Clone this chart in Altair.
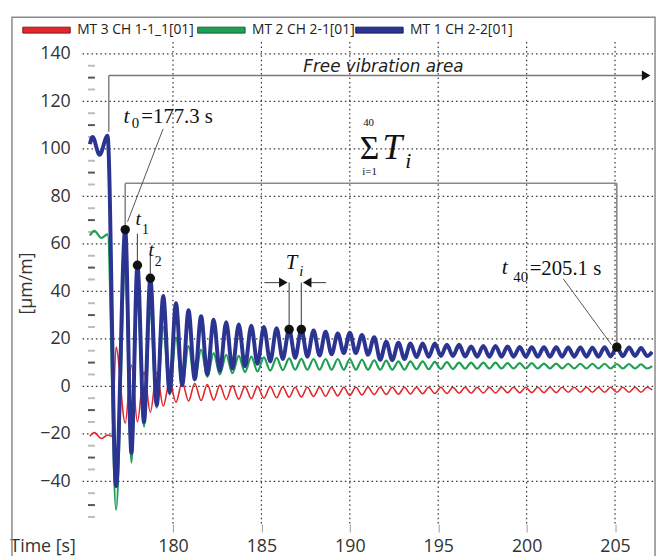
import altair as alt
import pandas as pd

SANS = "Open Sans"
SERIF = "Liberation Serif"

series_names = ["MT 3 CH 1-1_1[01]", "MT 2 CH 2-1[01]", "MT 1 CH 2-2[01]"]
series_colors = ["#e3262b", "#1f9e55", "#2b3591"]
series_edges = ["#7a1a1a", "#145c33", "#151c55"]

x_ticks = [180, 185, 190, 195, 200, 205]
y_ticks = [-40, -20, 0, 20, 40, 60, 80, 100, 120, 140]
minor_dark = [-50, -30, -10, 10, 30, 50, 70, 90, 110, 130]
minor_light = [-55, -45, -35, -25, -15, -5, 5, 15, 25, 35, 45, 55, 65, 75, 85, 95,
               105, 115, 125, 135]

# times of the blue-signal maxima (t0 ... ) and minima
peak_t = [177.30, 177.99, 178.72, 179.45, 180.17, 180.88, 181.59, 182.30, 183.01, 183.72,
          184.43, 185.14, 185.86, 186.57, 187.26, 187.95, 188.63, 189.32, 190.00, 190.69,
          191.38, 192.06, 192.75, 193.43, 194.12, 194.81, 195.49, 196.18, 196.86, 197.55,
          198.24, 198.92, 199.61, 200.29, 200.98, 201.67, 202.35, 203.04, 203.72, 204.41,
          205.10, 205.79, 206.47]
trough_t = [176.78, 177.65, 178.36, 179.08, 179.81, 180.52, 181.23, 181.94, 182.65, 183.36,
            184.07, 184.78, 185.50, 186.21, 186.91, 187.60, 188.29, 188.97, 189.66, 190.34,
            191.03, 191.72, 192.40, 193.09, 193.77, 194.46, 195.15, 195.83, 196.52, 197.20,
            197.89, 198.58, 199.26, 199.95, 200.63, 201.32, 202.01, 202.69, 203.38, 204.06,
            204.75, 205.44, 206.13, 206.81]
end_t = 207.10

# MT 1 CH 2-2 (blue)
blue_pre_t = [175.30, 175.45, 175.85, 176.30]
blue_pre_v = [102, 105, 97.5, 105.5]
blue_at_peaks = [66, 51, 45.5, 38, 35, 32, 29.5, 28, 27, 26,
                 25.5, 25, 24.5, 24, 24, 23.5, 23, 22.3, 22.6, 21.6,
                 20.7, 18.8, 18.4, 18.1, 18, 18, 17.5, 17.5, 16.8, 17,
                 17, 16.8, 16.6, 16.5, 16.5, 16.5, 16.4, 16.4, 16.3, 16.5,
                 16.5, 16.4, 16.2]
blue_at_troughs = [-42, -28, -15, -8, -2.5, 0.5, 3, 5, 6.5, 7.5,
                   8.5, 9.5, 10.5, 11.5, 12, 12.5, 13, 13.5, 14, 14,
                   13.3, 11.2, 11, 11.5, 12.3, 12.5, 12.8, 12.8, 12.6, 12.5,
                   12.5, 12.5, 12.5, 12.5, 12.5, 12.5, 12.5, 12.5, 12.5, 12.5,
                   12.6, 12.7, 12.8, 12.8]
blue_end = 14.5

# MT 2 CH 2-1 (green)
green_pre_t = [175.30, 175.55, 175.95, 176.30]
green_pre_v = [63.5, 65.5, 62.5, 64]
green_at_peaks = [50, 38, 31, 25, 20.5, 17, 15.5, 14, 13.3, 12.8,
                  12.5, 12.2, 12, 11.8, 11.6, 11.5, 11.5, 11.5, 11.5, 11.2,
                  11, 10.8, 10.5, 10.5, 10.5, 10.3, 10.2, 10, 10, 10,
                  10, 9.8, 9.8, 9.8, 9.6, 9.6, 9.5, 9.5, 9.5, 9.5,
                  9.4, 9.4, 9.3]
green_at_troughs = [-52, -32, -17, -9, -3.5, 0, 2.5, 4, 5, 5.5,
                    6, 6.3, 6.6, 6.8, 7, 7, 7, 7, 7, 7,
                    7, 7, 7, 7, 7.2, 7.2, 7.3, 7.3, 7.4, 7.4,
                    7.5, 7.5, 7.5, 7.5, 7.5, 7.5, 7.5, 7.5, 7.5, 7.5,
                    7.5, 7.5, 7.5, 7.5]
green_end = 8.5

# MT 3 CH 1-1_1 (red, opposite phase)
red_pre_t = [175.30, 175.55, 175.95, 176.30, 176.55]
red_pre_v = [-21, -19.5, -22, -20.5, -21]
red_at_peaks = [-15.5, -15, -11, -8.3, -6.7, -6.2, -6, -5.8, -5.6, -5.4,
                -5.2, -5, -4.8, -4.6, -4.5, -4.3, -4.2, -4, -3.8, -3.6,
                -3.5, -3.4, -3.3, -3.2, -3.1, -3, -3, -2.9, -2.9, -2.8,
                -2.8, -2.7, -2.7, -2.6, -2.6, -2.6, -2.5, -2.5, -2.5, -2.5,
                -2.5, -2.5, -2.5]
red_at_troughs = [16.6, 9, 6, 5.8, 2, 1.7, 1.2, 0.8, 0.5, 0.3,
                  0, 0, -0.2, -0.3, -0.4, -0.4, -0.4, -0.4, -0.4, -0.4,
                  -0.4, -0.4, -0.4, -0.4, -0.4, -0.4, -0.4, -0.4, -0.4, -0.4,
                  -0.4, -0.4, -0.4, -0.4, -0.4, -0.4, -0.4, -0.4, -0.4, -0.4,
                  -0.4, -0.4, -0.4, -0.4]
red_end = -1.5

# marked maxima
dot_t = [177.30, 177.99, 178.72, 186.57, 187.26, 205.10]
dot_v = [66, 51, 45.5, 24, 24, 16.5]


def build(pre_t, pre_v, at_p, at_tr, end_v):
    d = pd.DataFrame({"t": list(pre_t) + peak_t + trough_t + [end_t],
                      "v": list(pre_v) + at_p + at_tr + [end_v]})
    return d.sort_values("t").reset_index(drop=True)


df_red = build(red_pre_t, red_pre_v, red_at_peaks, red_at_troughs, red_end)
df_green = build(green_pre_t, green_pre_v, green_at_peaks, green_at_troughs, green_end)
df_blue = build(blue_pre_t, blue_pre_v, blue_at_peaks, blue_at_troughs, blue_end)

W, H = 578, 488
xs = alt.Scale(domain=[174.86, 207.15], nice=False, zero=False)
ys = alt.Scale(domain=[-58, 145], nice=False, zero=False)

x_axis = alt.Axis(values=x_ticks, title="Time [s]", grid=False, domain=False, ticks=True,
                  tickSize=8, tickColor="#999", labelFont=SANS, labelFontSize=18,
                  labelColor="#333", labelPadding=6,
                  titleFont=SANS, titleFontSize=18, titleFontWeight="normal", titleColor="#333",
                  titleX=-40, titleY=28, titleAlign="center", titleBaseline="alphabetic")
y_axis = alt.Axis(values=y_ticks, title="[µm/m]", grid=False, domain=False, ticks=False,
                  labelFont=SANS, labelFontSize=18, labelColor="#333", labelPadding=12,
                  titleFont=SANS, titleFontSize=18, titleFontWeight="normal",
                  titleColor="#333", titlePadding=4)


def X(f="t"):
    return alt.X(f"{f}:Q", scale=xs, axis=x_axis)


def Y(f="v"):
    return alt.Y(f"{f}:Q", scale=ys, axis=y_axis)


def line(d, color, width):
    return alt.Chart(d).mark_line(color=color, strokeWidth=width, interpolate="monotone",
                                  clip=True).encode(x=X(), y=Y())


def seg(t1, v1, t2, v2, color="#777", width=1.3):
    d = pd.DataFrame({"t": [t1], "v": [v1], "t2": [t2], "v2": [v2]})
    return alt.Chart(d).mark_rule(color=color, strokeWidth=width).encode(
        x=X(), y=Y(), x2="t2:Q", y2="v2:Q")


def label(t, v, s, size, italic=False, align="center", font=SERIF, color="#111"):
    d = pd.DataFrame({"t": [t], "v": [v], "s": [s]})
    return alt.Chart(d).mark_text(font=font, fontSize=size, fontStyle="italic" if italic else "normal",
                                  align=align, baseline="alphabetic", color=color).encode(
        x=X(), y=Y(), text="s:N")


def tri(t, v, shape):
    d = pd.DataFrame({"t": [t], "v": [v]})
    return alt.Chart(d).mark_point(shape=shape, filled=True, size=100, color="#111", opacity=1).encode(
        x=X(), y=Y())


one = pd.DataFrame({"a": [0]})
frame = alt.Chart(one).mark_rect(fillOpacity=0, stroke="#8a8a8a", strokeWidth=1.5).encode(
    x=alt.value(-71), x2=alt.value(580), y=alt.value(-25), y2=alt.value(H + 36))

grid_x = alt.Chart(pd.DataFrame({"t": x_ticks})).mark_rule(
    color="#333", strokeWidth=1.2, strokeDash=[1.5, 3]).encode(x=X())
grid_y = alt.Chart(pd.DataFrame({"v": y_ticks})).mark_rule(
    color="#333", strokeWidth=1.2, strokeDash=[1.5, 3]).encode(y=Y())

minor_d = alt.Chart(pd.DataFrame({"v": minor_dark})).mark_rule(color="#555", strokeWidth=2).encode(
    y=Y(), x=alt.value(6), x2=alt.value(13))
minor_l = alt.Chart(pd.DataFrame({"v": minor_light})).mark_rule(color="#bbb", strokeWidth=2).encode(
    y=Y(), x=alt.value(6), x2=alt.value(13))

dots = alt.Chart(pd.DataFrame({"t": dot_t, "v": dot_v})).mark_circle(
    size=90, color="#111", opacity=1).encode(x=X(), y=Y())


def legend_item(x0, name, color, edge):
    sw = alt.Chart(one).mark_rect(color=color, stroke=edge, strokeWidth=1).encode(
        x=alt.value(x0), x2=alt.value(x0 + 48), y=alt.value(-15), y2=alt.value(-9))
    tx = alt.Chart(one).mark_text(text=name, align="left", baseline="middle", font=SANS,
                                  fontSize=14, color="#222").encode(
        x=alt.value(x0 + 55), y=alt.value(-12))
    return [sw, tx]


legend_layers = (legend_item(-60, series_names[0], series_colors[0], series_edges[0])
                 + legend_item(117, series_names[1], series_colors[1], series_edges[1])
                 + legend_item(277, series_names[2], series_colors[2], series_edges[2]))

layers = [
    frame, grid_x, grid_y, minor_d, minor_l,
    line(df_red, series_colors[0], 1.6),
    line(df_green, series_colors[1], 2.2),
    line(df_blue, series_colors[2], 4),
    # free vibration area arrow
    seg(176.37, 130.9, 176.37, 107.2, "#777", 1.4),
    seg(176.37, 130.9, 206.6, 130.9, "#777", 1.4),
    tri(206.76, 130.9, "triangle-right"),
    label(191.9, 132.5, "Free vibration area", 17, italic=True, font="DejaVu Sans", color="#222"),
    # sum bracket
    seg(177.30, 85.5, 205.10, 85.5, "#888", 1.6),
    seg(177.30, 85.5, 177.30, 66, "#888", 1.6),
    seg(205.10, 85.5, 205.10, 16.5, "#888", 1.6),
    label(191.12, 95.9, "Σ", 34),
    label(191.06, 109.6, "40", 11),
    label(191.12, 88.8, "i=1", 11),
    label(191.85, 95.9, "T", 36, italic=True, align="left"),
    label(193.30, 91.8, "i", 22, italic=True),
    # t0
    seg(179.44, 108.4, 177.43, 69.3, "#555", 1),
    label(177.37, 110.9, "t", 22, italic=True),
    label(177.88, 108.8, "0", 15),
    label(178.21, 110.9, "=177.3 s", 21, align="left"),
    # t1, t2
    seg(177.99, 64.3, 177.99, 51, "#555", 1.2),
    label(178.04, 68.0, "t", 20, italic=True),
    label(178.44, 64.3, "1", 14),
    seg(178.72, 55.6, 178.72, 45.5, "#555", 1.2),
    label(178.77, 54.8, "t", 20, italic=True),
    label(179.16, 50.6, "2", 14),
    # Ti
    seg(186.57, 43.7, 186.57, 24, "#555", 1.2),
    seg(187.26, 43.7, 187.26, 24, "#555", 1.2),
    seg(185.17, 43.7, 186.4, 43.7, "#555", 1.2),
    seg(187.43, 43.7, 188.66, 43.7, "#555", 1.2),
    tri(186.24, 43.7, "triangle-right"),
    tri(187.59, 43.7, "triangle-left"),
    label(186.70, 49.4, "T", 21, italic=True),
    label(187.26, 46.4, "i", 15, italic=True),
    # t40
    seg(202.07, 45.3, 204.8, 17.5, "#555", 1),
    label(198.77, 47.3, "t", 22, italic=True),
    label(199.66, 44.0, "40", 15),
    label(200.17, 46.9, "=205.1 s", 21, align="left"),
    dots,
] + legend_layers

chart = alt.layer(*layers).properties(
    width=W, height=H, padding={"left": 1, "top": 5, "right": 2, "bottom": 0}
).configure_view(strokeWidth=0)

chart.save("out.html", embed_options={"renderer": "svg", "actions": False})
